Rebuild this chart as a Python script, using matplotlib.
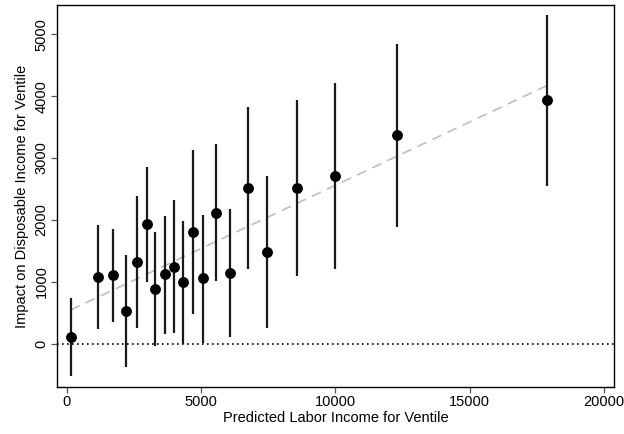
import numpy as np
import matplotlib
matplotlib.use('Agg')
import matplotlib.pyplot as plt

plt.rcParams['font.family'] = ['Liberation Sans', 'DejaVu Sans']

# predicted labor income per ventile, impact estimate and 95% CI
income = [137, 1143, 1726, 2198, 2608, 2969, 3291, 3640, 3975, 4311,
          4707, 5080, 5540, 6062, 6745, 7453, 8571, 9986, 12296, 17885]
impact = [108, 1079, 1106, 532, 1327, 1928, 892, 1122, 1246, 993,
          1810, 1058, 2121, 1150, 2512, 1488, 2512, 2705, 3366, 3929]
ci_low = [-515, 237, 354, -375, 264, 993, -32, 161, 172, 6,
          489, 22, 1015, 119, 1208, 264, 1101, 1203, 1895, 2544]
ci_high = [736, 1922, 1852, 1433, 2394, 2861, 1803, 2072, 2319, 1981,
           3130, 2084, 3222, 2174, 3823, 2712, 3940, 4209, 4842, 5309]

# linear fit shown as dashed line
fit_intercept = 520
fit_slope = 0.2041

x_ticks = [0, 5000, 10000, 15000, 20000]
y_ticks = [0, 1000, 2000, 3000, 4000, 5000]

income = np.array(income)
impact = np.array(impact)

fig = plt.figure(figsize=(6.24, 4.34), dpi=100)
ax = fig.add_axes([0.0913, 0.1083, 0.8927, 0.880])

ax.axhline(0, color='black', linestyle=(0, (1, 2)), linewidth=1.2, zorder=1)
xf = np.array([income.min(), income.max()])
ax.plot(xf, fit_intercept + fit_slope * xf, color='#bfbfbf', linestyle=(0, (6, 4)),
        linewidth=1.2, zorder=1)
ax.vlines(income, ci_low, ci_high, color='#1a1a1a', linewidth=1.6, zorder=2)
ax.plot(income, impact, 'o', color='black', markersize=6.8, zorder=3)

ax.set_xlim(-370, 20380)
ax.set_ylim(-694, 5468)
ax.set_xticks(x_ticks)
ax.set_yticks(y_ticks)
ax.set_yticklabels([str(v) for v in y_ticks], rotation=90, va='center')
ax.tick_params(direction='out', length=4, width=0.9, color='#555555', labelsize=10.5, pad=2)
for s in ax.spines.values():
    s.set_linewidth(1.0)
ax.set_xlabel('Predicted Labor Income for Ventile', fontsize=10.5, labelpad=1)
ax.set_ylabel('Impact on Disposable Income for Ventile', fontsize=10.5, labelpad=4)

fig.savefig('out.png', dpi=100)
